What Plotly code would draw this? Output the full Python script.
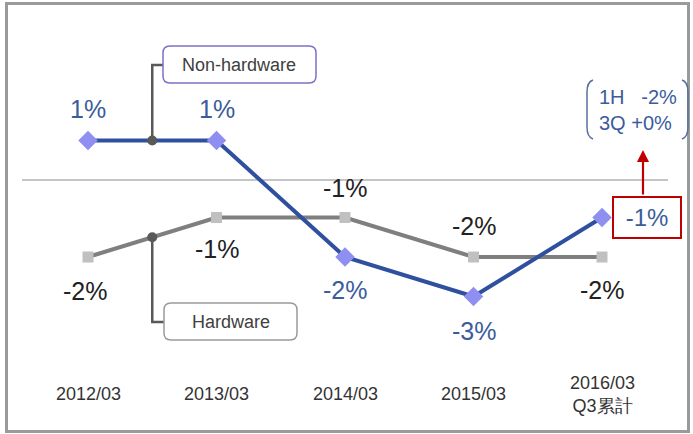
import plotly.graph_objects as go

W, H = 693, 434

# ---- data ----
categories = ["2012/03", "2013/03", "2014/03", "2015/03", "2016/03<br>Q3累計"]
non_hw = [1.0, 1.0, -1.95, -2.95, -0.95]
non_hw_labels = ["1%", "1%", "-2%", "-3%", "-1%"]
hw = [-1.95, -0.95, -0.95, -1.95, -1.95]
hw_labels = ["-2%", "-1%", "-1%", "-2%", "-2%"]
bracket_lines = ["1H&nbsp;&nbsp; -2%", "3Q +0%"]

# ---- pixel <-> data mapping (margin 0, plot spans whole figure) ----
X0_PX, X_STEP = 88.0, 128.5
Y0_PX, Y_STEP = 180.0, 39.5
xr = [(0 - X0_PX) / X_STEP, (W - X0_PX) / X_STEP]
yr = [(Y0_PX - H) / Y_STEP, Y0_PX / Y_STEP]

def px2x(p):
    return (p - X0_PX) / X_STEP

def py2y(p):
    return (Y0_PX - p) / Y_STEP

def fx(p):
    return p / W

def fy(p):
    return 1 - p / H

xs = list(range(len(categories)))

BLUE_LINE = "#2F4F9F"
BLUE_TXT = "#3B5C9B"
GRAY_LINE = "#7F7F7F"
FONT = "Liberation Sans, Arial, sans-serif"

fig = go.Figure()

# hardware
fig.add_trace(go.Scatter(
    x=xs, y=hw, mode="lines+markers",
    line=dict(color=GRAY_LINE, width=4),
    marker=dict(symbol="square", size=11, color="#C0C0C0"),
    hoverinfo="skip", showlegend=False))
# non-hardware
fig.add_trace(go.Scatter(
    x=xs, y=non_hw, mode="lines+markers",
    line=dict(color=BLUE_LINE, width=4),
    marker=dict(symbol="diamond", size=15, color="#8F8FF2"),
    hoverinfo="skip", showlegend=False))

# midpoint dots for callouts
mid_x = (xs[0] + xs[1]) / 2
nh_mid = (non_hw[0] + non_hw[1]) / 2
hw_mid = (hw[0] + hw[1]) / 2
fig.add_trace(go.Scatter(
    x=[mid_x, mid_x], y=[nh_mid, hw_mid], mode="markers",
    marker=dict(size=10, color="#595959"),
    hoverinfo="skip", showlegend=False))

shapes = []
# zero line
shapes.append(dict(type="line", xref="x", yref="y", x0=px2x(22), x1=px2x(668), y0=0, y1=0,
                   line=dict(color="#8C8C8C", width=1.2), layer="below"))
# outer frame
shapes.append(dict(type="rect", xref="paper", yref="paper",
                   x0=fx(6.5), x1=fx(688.5), y0=fy(431.5), y1=fy(3.5),
                   line=dict(color="#9A9A9A", width=3)))

# connectors
shapes.append(dict(type="path", xref="x", yref="y",
                   path=f"M {mid_x},{nh_mid} L {mid_x},{py2y(65)} L {px2x(163)},{py2y(65)}",
                   line=dict(color="#595959", width=2.5)))
shapes.append(dict(type="path", xref="x", yref="y",
                   path=f"M {mid_x},{hw_mid} L {mid_x},{py2y(322)} L {px2x(164)},{py2y(322)}",
                   line=dict(color="#595959", width=2.5)))

def rounded_rect(x0, y0, x1, y1, r):
    def P(x, y):
        return f"{fx(x)},{fy(y)}"
    return (f"M {P(x0 + r, y0)} L {P(x1 - r, y0)} Q {P(x1, y0)} {P(x1, y0 + r)} "
            f"L {P(x1, y1 - r)} Q {P(x1, y1)} {P(x1 - r, y1)} "
            f"L {P(x0 + r, y1)} Q {P(x0, y1)} {P(x0, y1 - r)} "
            f"L {P(x0, y0 + r)} Q {P(x0, y0)} {P(x0 + r, y0)} Z")

shapes.append(dict(type="path", xref="paper", yref="paper",
                   path=rounded_rect(163, 46, 316, 83, 7),
                   fillcolor="white", line=dict(color="#7A72C6", width=1.5)))
shapes.append(dict(type="path", xref="paper", yref="paper",
                   path=rounded_rect(164, 303, 297, 340, 7),
                   fillcolor="white", line=dict(color="#9A9A9A", width=1.5)))

# brackets
def bracket(xv, xc, y0, y1):
    return (f"M {fx(xc)},{fy(y0)} Q {fx(xv)},{fy(y0 + 2)} {fx(xv)},{fy(y0 + 12)} "
            f"L {fx(xv)},{fy(y1 - 12)} Q {fx(xv)},{fy(y1 - 2)} {fx(xc)},{fy(y1)}")

shapes.append(dict(type="path", xref="paper", yref="paper",
                   path=bracket(587, 593, 80, 139), line=dict(color="#5A6E9E", width=1.5)))
shapes.append(dict(type="path", xref="paper", yref="paper",
                   path=bracket(688, 682, 80, 139), line=dict(color="#5A6E9E", width=1.5)))

annotations = []
# x category labels
for i, c in enumerate(categories):
    annotations.append(dict(x=xs[i], y=py2y(394), xref="x", yref="y", text=c,
                            showarrow=False, yanchor="middle", xanchor="center",
                            font=dict(family=FONT, size=18, color="#333333")))

# non-hardware labels
nh_pos = [(0, -32), (0, -32), (0, 33), (0, 34), None]
for i, lab in enumerate(non_hw_labels):
    if nh_pos[i] is None:
        continue
    dx, dy = nh_pos[i]
    annotations.append(dict(x=xs[i], y=non_hw[i], xref="x", yref="y", text=lab,
                            showarrow=False, xshift=dx, yshift=-dy,
                            xanchor="center", yanchor="middle",
                            font=dict(family=FONT, size=25, color=BLUE_TXT)))
# boxed -1%
annotations.append(dict(x=xs[4], y=non_hw[4], xref="x", yref="y", text=non_hw_labels[4],
                        showarrow=False, xshift=45, yshift=0,
                        xanchor="center", yanchor="middle",
                        width=56, height=29, borderpad=5,
                        bordercolor="#C00000", borderwidth=2, bgcolor="white",
                        font=dict(family=FONT, size=24, color=BLUE_TXT)))
# red arrow
annotations.append(dict(x=px2x(643), y=py2y(150), xref="x", yref="y",
                        ax=px2x(643), ay=py2y(196), axref="x", ayref="y",
                        text="", showarrow=True, arrowhead=2, arrowsize=1.1,
                        arrowwidth=2.2, arrowcolor="#C00000"))

# hardware labels
hw_pos = [(-3, 34), (0, 31), (0, -30), (0, -31), (0, 33)]
for i, lab in enumerate(hw_labels):
    dx, dy = hw_pos[i]
    annotations.append(dict(x=xs[i], y=hw[i], xref="x", yref="y", text=lab,
                            showarrow=False, xshift=dx, yshift=-dy,
                            xanchor="center", yanchor="middle",
                            font=dict(family=FONT, size=25, color="#222222")))

# callout texts
annotations.append(dict(x=fx(239.5), y=fy(65), xref="paper", yref="paper", text="Non-hardware",
                        showarrow=False, xanchor="center", yanchor="middle",
                        font=dict(family=FONT, size=18, color="#404040")))
annotations.append(dict(x=fx(230.5), y=fy(322), xref="paper", yref="paper", text="Hardware",
                        showarrow=False, xanchor="center", yanchor="middle",
                        font=dict(family=FONT, size=18, color="#404040")))

# bracket text
annotations.append(dict(x=fx(638), y=fy(110), xref="paper", yref="paper",
                        text="<br>".join(bracket_lines), showarrow=False, align="left",
                        xanchor="center", yanchor="middle",
                        font=dict(family=FONT, size=20, color="#3B5C9B")))

fig.update_layout(
    width=W, height=H, autosize=False,
    margin=dict(l=0, r=0, t=0, b=0),
    paper_bgcolor="white", plot_bgcolor="white",
    xaxis=dict(range=xr, visible=False, fixedrange=True),
    yaxis=dict(range=yr, visible=False, fixedrange=True),
    shapes=shapes, annotations=annotations, showlegend=False,
)

fig.write_html(
    "out.html",
    config={"displayModeBar": False},
    post_script="document.body.style.margin='0';document.body.style.overflow='hidden';",
)
